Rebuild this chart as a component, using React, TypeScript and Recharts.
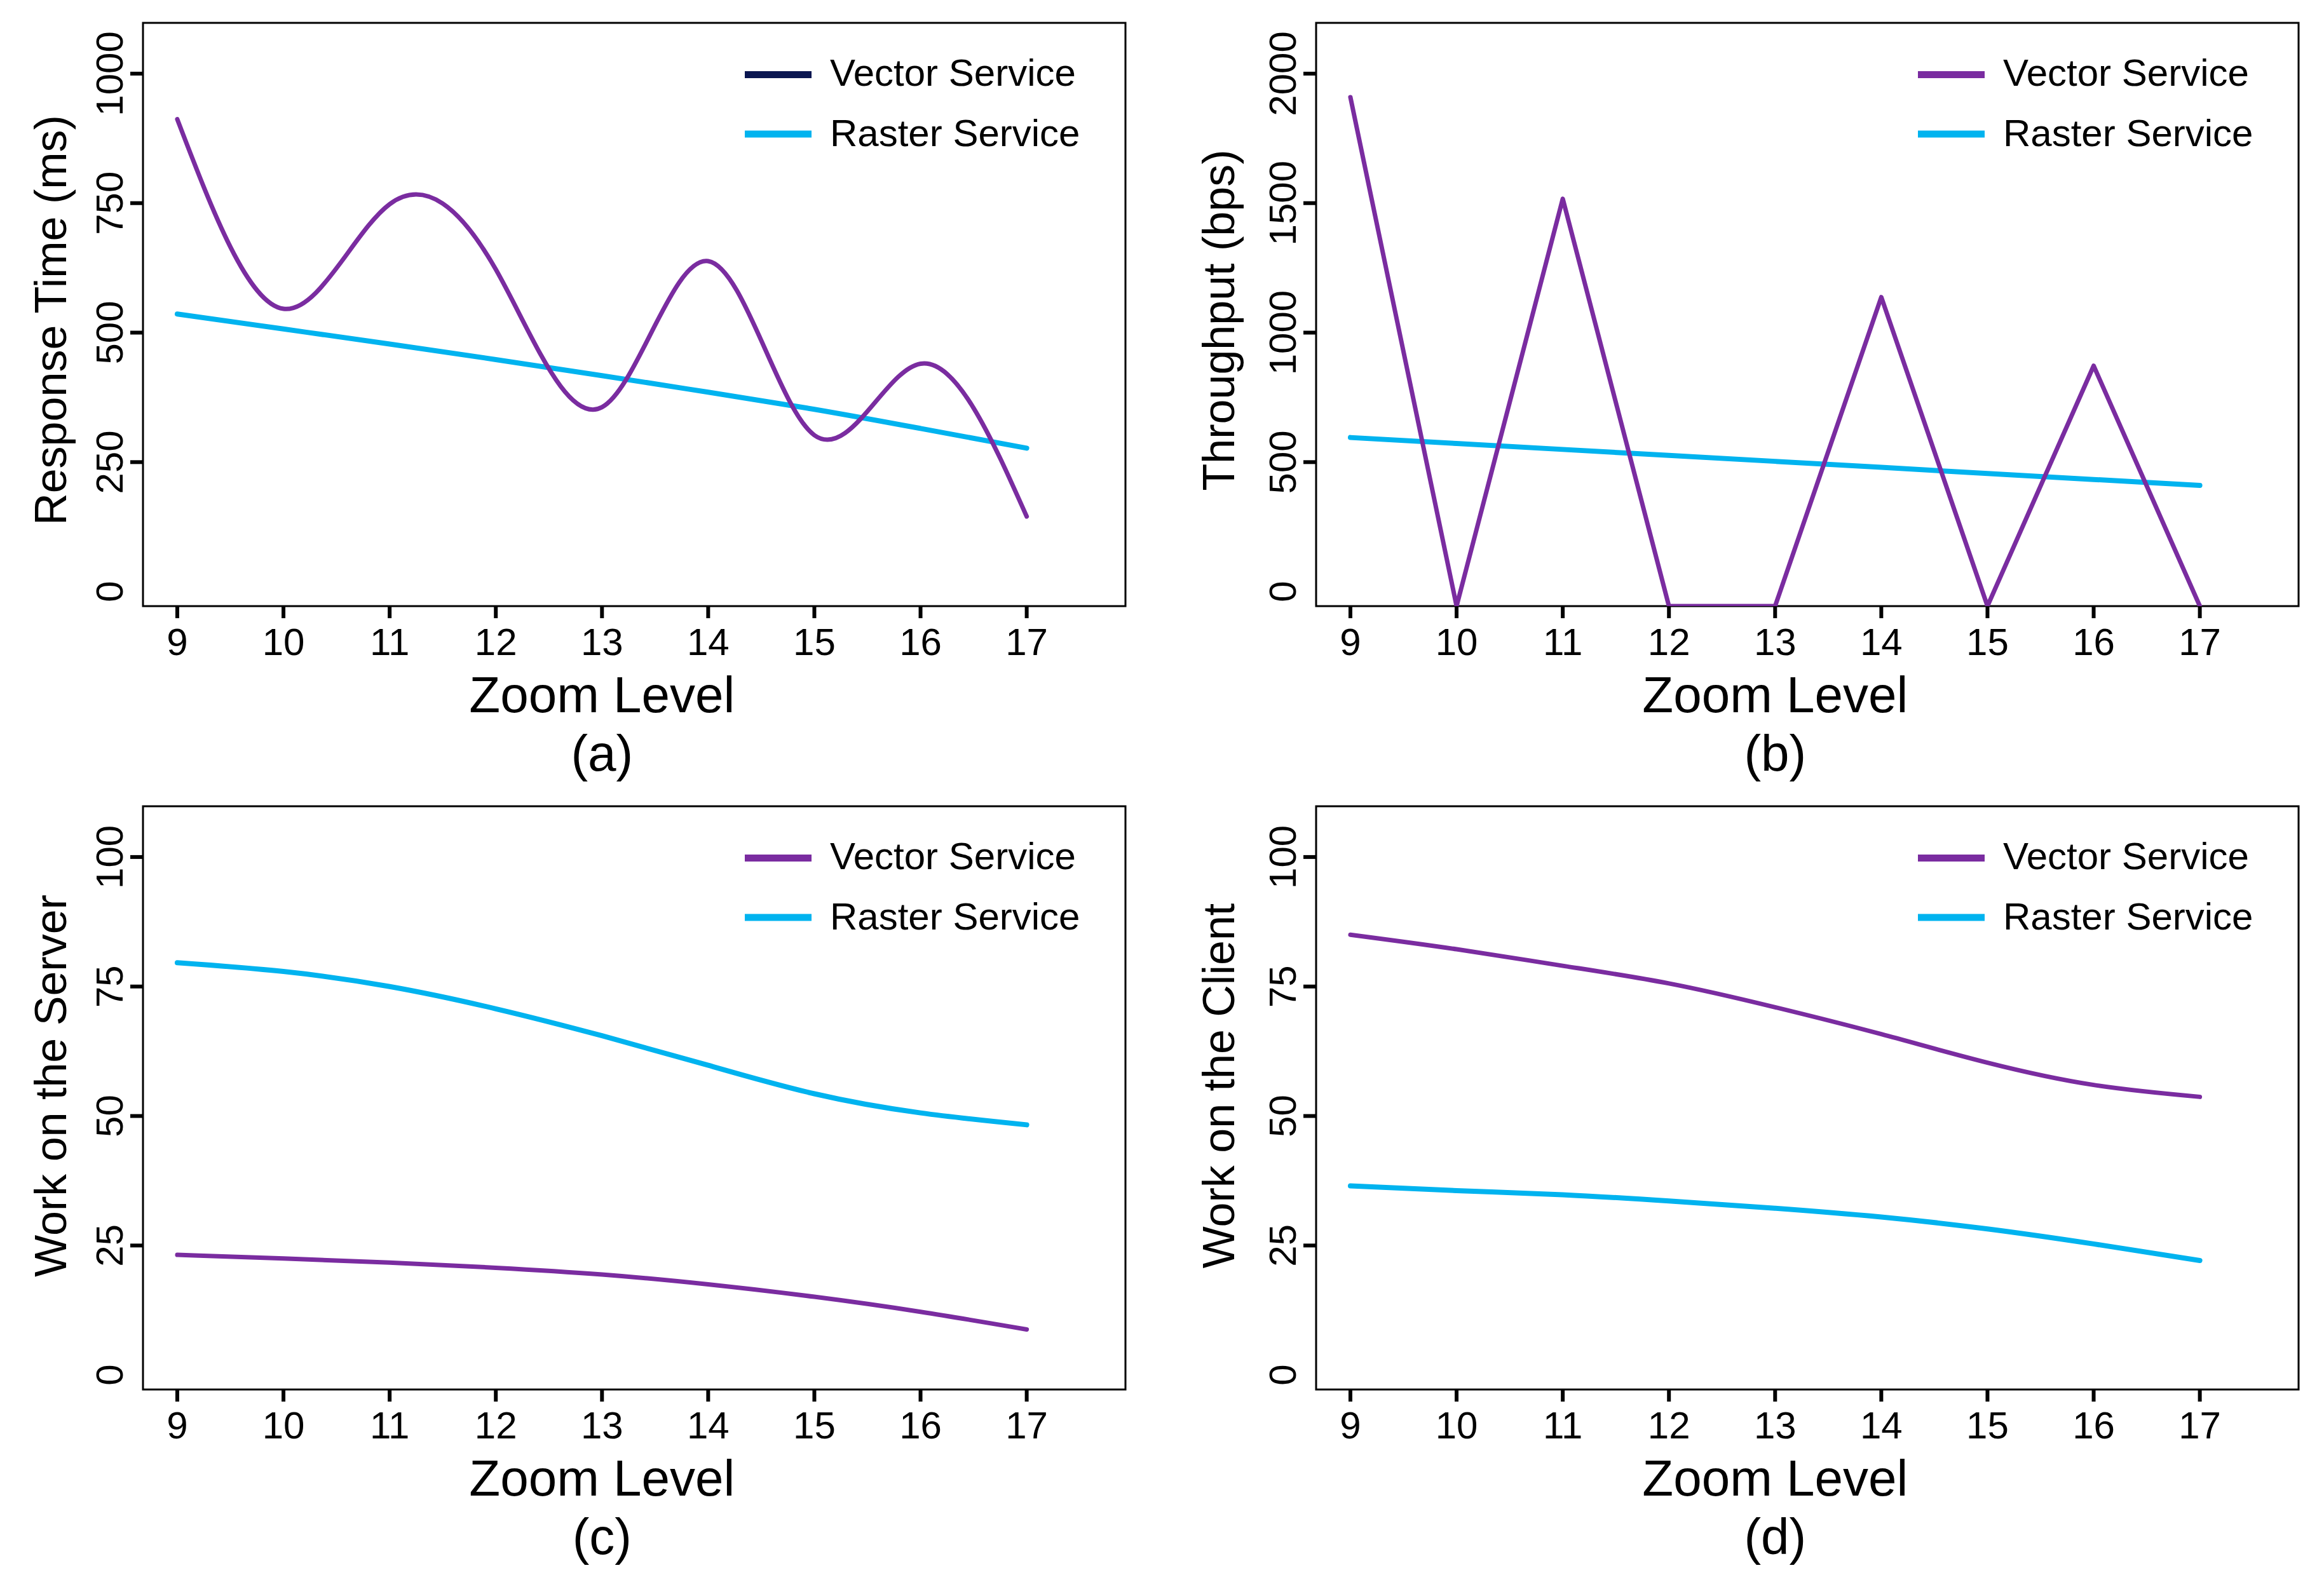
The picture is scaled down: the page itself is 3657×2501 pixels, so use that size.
import React from 'react';
import { LineChart, Line, XAxis, YAxis, ReferenceArea, Legend, Label } from 'recharts';

// ---------- data ----------
const ZOOM_LEVELS = [9, 10, 11, 12, 13, 14, 15, 16, 17];

const RESPONSE_VECTOR = [912, 546, 748, 622, 356, 638, 302, 440, 145];
const RESPONSE_RASTER = [536, 507, 478, 448, 417, 385, 352, 315, 277];

const THROUGHPUT_VECTOR = [1909, -56, 1517, -56, -56, 1137, -56, 872, -56];
const THROUGHPUT_RASTER = [595, 572, 549, 526, 503, 480, 456, 433, 410];

const SERVER_VECTOR = [23.2, 22.5, 21.7, 20.7, 19.4, 17.5, 15.1, 12.2, 8.8];
const SERVER_RASTER = [79.6, 77.9, 75, 70.7, 65.5, 59.8, 54.3, 50.6, 48.3];

const CLIENT_VECTOR = [85, 82.2, 79, 75.6, 71, 65.8, 60.3, 56, 53.7];
const CLIENT_RASTER = [36.5, 35.6, 34.8, 33.6, 32.2, 30.5, 28.2, 25.3, 22.1];

const RESPONSE_TICKS = [0, 250, 500, 750, 1000];
const THROUGHPUT_TICKS = [0, 500, 1000, 1500, 2000];
const PERCENT_TICKS = [0, 25, 50, 75, 100];

const SERIES_NAMES = ['Vector Service', 'Raster Service'];
const X_TITLE = 'Zoom Level';

// ---------- style ----------
const FONT = '"Liberation Sans", Arial, Helvetica, sans-serif';
const PURPLE = '#7A2CA0';
const CYAN = '#00B3EF';
const NAVY = '#0A1650';

const CHART_W = 1811;
const CHART_H = 1233;
const MARGIN = { top: 36, right: 40, bottom: 0, left: 0 };
const Y_AXIS_W = 225;
const X_AXIS_H = 279;
const BOX_LEFT = 225;
const BOX_W = CHART_W - MARGIN.right - Y_AXIS_W;
const BOX_BOTTOM = CHART_H - X_AXIS_H;
const X_DOMAIN: [number, number] = [8.677, 17.93];

const build = (v: number[], r: number[]) =>
  ZOOM_LEVELS.map((z, i) => ({ zoom: z, vector: v[i], raster: r[i] }));

const YTick = (props: any) => {
  const { x, y, payload } = props;
  return (
    <g>
      {payload.value !== 0 && (
        <line x1={x + 12} x2={x + 32} y1={y} y2={y} stroke="#000" strokeWidth={6} />
      )}
      <text
        x={x}
        y={y}
        transform={`rotate(-90 ${x} ${y})`}
        textAnchor="middle"
        fontSize={60}
        fontFamily={FONT}
        fill="#000"
      >
        {payload.value}
      </text>
    </g>
  );
};

const XTick = (props: any) => {
  const { x, y, payload } = props;
  return (
    <text x={x} y={y + 48} textAnchor="middle" fontSize={60} fontFamily={FONT} fill="#000">
      {payload.value}
    </text>
  );
};

type PanelProps = {
  left: number;
  top: number;
  vector: number[];
  raster: number[];
  yDomain: [number, number];
  yTicks: number[];
  yTitle: string;
  letter: string;
  vectorType: 'natural' | 'linear';
  rasterType: 'natural' | 'linear';
  legendVectorColor: string;
  titleX: number;
  titleCY: number;
};

function Panel(p: PanelProps) {
  const data = build(p.vector, p.raster);
  const cx = BOX_LEFT + ((13 - X_DOMAIN[0]) / (X_DOMAIN[1] - X_DOMAIN[0])) * BOX_W;
  const legendItems = [
    { name: SERIES_NAMES[0], color: p.legendVectorColor },
    { name: SERIES_NAMES[1], color: CYAN },
  ];
  const LEG_L = 1150;
  const LEG_T = 50;
  return (
    <div style={{ position: 'absolute', left: p.left, top: p.top }}>
      <LineChart width={CHART_W} height={CHART_H} data={data} margin={MARGIN}>
        <XAxis
          dataKey="zoom"
          type="number"
          domain={X_DOMAIN}
          allowDataOverflow
          ticks={ZOOM_LEVELS}
          interval={0}
          height={X_AXIS_H}
          axisLine={false}
          tickLine={{ stroke: '#000', strokeWidth: 6 }}
          tickSize={19}
          tickMargin={10}
          tick={<XTick />}
        >
          <Label
            content={() => (
              <g>
                <text x={cx} y={BOX_BOTTOM + 167} textAnchor="middle" fontSize={80} fontFamily={FONT} fill="#000">
                  {X_TITLE}
                </text>
                <text x={cx} y={BOX_BOTTOM + 259} textAnchor="middle" fontSize={80} fontFamily={FONT} fill="#000">
                  {`(${p.letter})`}
                </text>
              </g>
            )}
          />
        </XAxis>
        <YAxis
          type="number"
          domain={p.yDomain}
          allowDataOverflow
          ticks={p.yTicks}
          interval={0}
          width={Y_AXIS_W}
          axisLine={false}
          tickLine={false}
          tickSize={20}
          tickMargin={12}
          tick={<YTick />}
        >
          <Label
            content={() => (
              <text
                x={p.titleX}
                y={p.titleCY}
                transform={`rotate(-90 ${p.titleX} ${p.titleCY})`}
                textAnchor="middle"
                fontSize={70}
                fontFamily={FONT}
                fill="#000"
              >
                {p.yTitle}
              </text>
            )}
          />
        </YAxis>
        <Line
          type={p.rasterType}
          dataKey="raster"
          name={SERIES_NAMES[1]}
          stroke={CYAN}
          strokeWidth={8}
          dot={false}
          activeDot={false}
          strokeLinecap="round"
          isAnimationActive={false}
        />
        <Line
          type={p.vectorType}
          dataKey="vector"
          name={SERIES_NAMES[0]}
          stroke={PURPLE}
          strokeWidth={7}
          dot={false}
          activeDot={false}
          strokeLinecap="round"
          strokeLinejoin="round"
          isAnimationActive={false}
        />
        <ReferenceArea
          x1={X_DOMAIN[0]}
          x2={X_DOMAIN[1]}
          y1={p.yDomain[0]}
          y2={p.yDomain[1]}
          fill="none"
          fillOpacity={0}
          stroke="#000"
          strokeWidth={3}
          ifOverflow="visible"
        />
        <Legend
          layout="vertical"
          align="center"
          verticalAlign="middle"
          wrapperStyle={{ left: LEG_L, top: LEG_T, width: 620, height: 220 }}
          content={() => (
            <svg width={620} height={220} style={{ display: 'block' }}>
              {legendItems.map((it, i) => {
                const lineY = [117.5, 211][i] - LEG_T;
                const baseY = [134.5, 229.6][i] - LEG_T;
                return (
                  <g key={it.name}>
                    <line x1={1172 - LEG_L} x2={1277 - LEG_L} y1={lineY} y2={lineY} stroke={it.color} strokeWidth={11} />
                    <text x={1306 - LEG_L} y={baseY} fontSize={60} fontFamily={FONT} fill="#000">
                      {it.name}
                    </text>
                  </g>
                );
              })}
            </svg>
          )}
        />
      </LineChart>
    </div>
  );
}

export default function App() {
  return (
    <div
      style={{
        position: 'absolute',
        left: 0,
        top: 0,
        width: 3657,
        height: 2501,
        background: '#fff',
        overflow: 'hidden',
      }}
    >
      <Panel
        left={0}
        top={0}
        vector={RESPONSE_VECTOR}
        raster={RESPONSE_RASTER}
        yDomain={[-28, 1098]}
        yTicks={RESPONSE_TICKS}
        yTitle="Response Time (ms)"
        letter="a"
        vectorType="natural"
        rasterType="natural"
        legendVectorColor={NAVY}
        titleX={104}
        titleCY={504}
      />
      <Panel
        left={1846}
        top={0}
        vector={THROUGHPUT_VECTOR}
        raster={THROUGHPUT_RASTER}
        yDomain={[-56, 2196]}
        yTicks={THROUGHPUT_TICKS}
        yTitle="Throughput (bps)"
        letter="b"
        vectorType="linear"
        rasterType="linear"
        legendVectorColor={PURPLE}
        titleX={96}
        titleCY={504}
      />
      <Panel
        left={0}
        top={1233}
        vector={SERVER_VECTOR}
        raster={SERVER_RASTER}
        yDomain={[-2.8, 109.8]}
        yTicks={PERCENT_TICKS}
        yTitle="Work on the Server"
        letter="c"
        vectorType="natural"
        rasterType="natural"
        legendVectorColor={PURPLE}
        titleX={104}
        titleCY={476}
      />
      <Panel
        left={1846}
        top={1233}
        vector={CLIENT_VECTOR}
        raster={CLIENT_RASTER}
        yDomain={[-2.8, 109.8]}
        yTicks={PERCENT_TICKS}
        yTitle="Work on the Client"
        letter="d"
        vectorType="natural"
        rasterType="natural"
        legendVectorColor={PURPLE}
        titleX={96}
        titleCY={476}
      />
    </div>
  );
}
